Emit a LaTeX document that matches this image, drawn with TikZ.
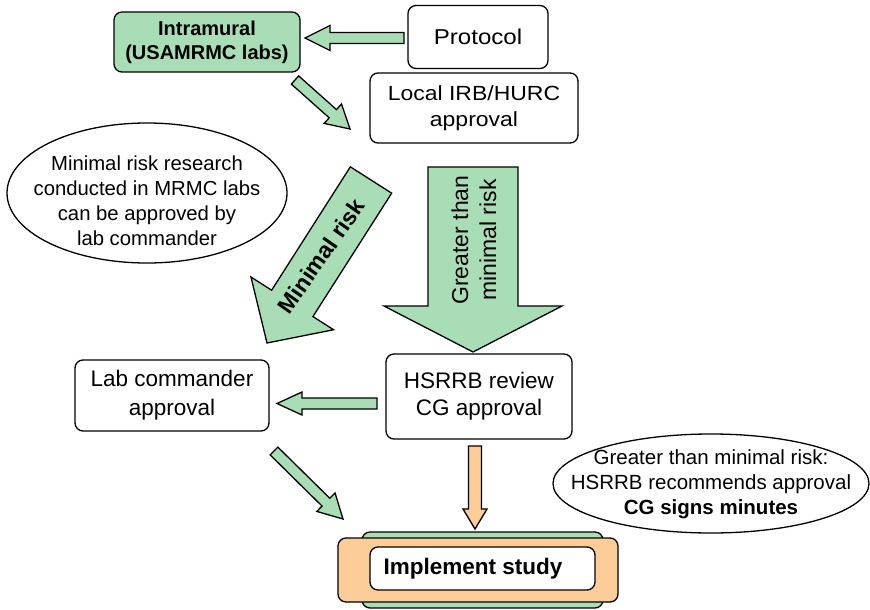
\documentclass[tikz,border=0pt]{standalone}
\usepackage{fontspec}
\setmainfont{Liberation Sans}
\newfontfamily\widefont{Liberation Sans}[FakeStretch=1.12]
\usetikzlibrary{calc,shapes.geometric}
\definecolor{lgreen}{RGB}{168,221,181}
\definecolor{lorange}{RGB}{252,204,153}
\newcommand\blockarr[6]{%
 \coordinate (hb) at ($(#2)!#5!(#1)$);
 \draw[ln, fill=#6]
   ($(#1)!#3!90:(#2)$) -- ($(hb)!#3!90:(#2)$) -- ($(hb)!#4!90:(#2)$) -- (#2)
   -- ($(hb)!#4!-90:(#2)$) -- ($(hb)!#3!-90:(#2)$) -- ($(#1)!#3!-90:(#2)$) -- cycle;}
\begin{document}
\begin{tikzpicture}[x=1pt,y=-1pt,
  ln/.style={line width=1.3pt, line join=miter},
  txt/.style={font=\fontsize{21}{25}\selectfont, align=center},
  box/.style={txt, draw, line width=1.3pt, rounded corners=8pt, inner sep=0pt, fill=white},
  oval/.style={draw, line width=1.3pt, ellipse, inner sep=0pt, fill=white}]
\useasboundingbox (0,0) rectangle (870,610);
% boxes
\node[box, fill=lgreen, minimum width=186pt, minimum height=60pt, font=\fontsize{20}{24}\selectfont\bfseries] (intra) at (207,42) {Intramural\\(USAMRMC labs)};
\node[box, minimum width=140pt, minimum height=63pt, font=\widefont\fontsize{21.5}{25}\selectfont] (prot) at (478,37) {Protocol};
\node[box, minimum width=208pt, minimum height=70pt, font=\widefont\fontsize{20.5}{26}\selectfont] (irb) at (474,108) {Local IRB/HURC\\approval};
\node[box, minimum width=186pt, minimum height=85pt, font=\fontsize{22.5}{27}\selectfont] (hsrrb) at (479,396.5) {HSRRB review\\CG approval};
\node[box, minimum width=194pt, minimum height=71pt, font=\fontsize{22.5}{29}\selectfont] (lab) at (172,395.5) {Lab commander\\approval};
% ovals
\node[oval, minimum width=280pt, minimum height=140pt] (ovl) at (147,193) {};
\node[txt, font=\fontsize{20.3}{25}\selectfont] (ovlt) at (147,201) {Minimal risk research\\conducted in MRMC labs\\can be approved by\\lab commander};
\node[oval, minimum width=316pt, minimum height=99pt] (ovr) at (711,483.5) {};
\node[txt, font=\fontsize{20.5}{25}\selectfont] (ovrt) at (711,484) {Greater than minimal risk:\\HSRRB recommends approval\\\textbf{CG signs minutes}};
% implement study
\node[draw, line width=1.3pt, rounded corners=8pt, fill=lgreen, minimum width=241pt, minimum height=76pt, inner sep=0pt] (implg) at (482.5,570) {};
\node[draw, line width=1.3pt, rounded corners=8pt, fill=lorange, minimum width=280pt, minimum height=64pt, inner sep=0pt] (implo) at (478,570) {};
\node[box, minimum width=225pt, minimum height=43pt] (impl) at (482.5,568.5) {};
\node[txt, font=\fontsize{22.5}{27}\selectfont\bfseries] (implt) at (473,569) {Implement study};
% arrow end points
\coordinate (a1s) at (404,38);   \coordinate (a1t) at (305,38);
\coordinate (a2s) at (295,80);   \coordinate (a2t) at (350,129);
\coordinate (a3s) at (371,180);  \coordinate (a3t) at (267,343);
\coordinate (a4s) at (473,167);  \coordinate (a4t) at (473,352);
\coordinate (a5s) at (377,403.5);\coordinate (a5t) at (277,403.5);
\coordinate (a6s) at (274,451);  \coordinate (a6t) at (343,519);
\coordinate (a7s) at (475,446);  \coordinate (a7t) at (475,529);
\blockarr{a1s}{a1t}{5.5pt}{12.5pt}{25pt}{lgreen}
\blockarr{a2s}{a2t}{5.5pt}{13pt}{23pt}{lgreen}
\blockarr{a3s}{a3t}{24.5pt}{49pt}{47pt}{lgreen}
\blockarr{a4s}{a4t}{45pt}{89pt}{46pt}{lgreen}
\blockarr{a5s}{a5t}{5.5pt}{11.5pt}{25pt}{lgreen}
\blockarr{a6s}{a6t}{5.5pt}{13pt}{24pt}{lgreen}
\blockarr{a7s}{a7t}{6.5pt}{12pt}{20pt}{lorange}
% arrow labels
\node[txt, rotate=55, font=\fontsize{23}{27}\selectfont\bfseries] (lmin) at (321,256) {Minimal risk};
\node[txt, rotate=90, font=\fontsize{23}{28}\selectfont] (lgt) at (474,240) {Greater than\\minimal risk};
\end{tikzpicture}
\end{document}
